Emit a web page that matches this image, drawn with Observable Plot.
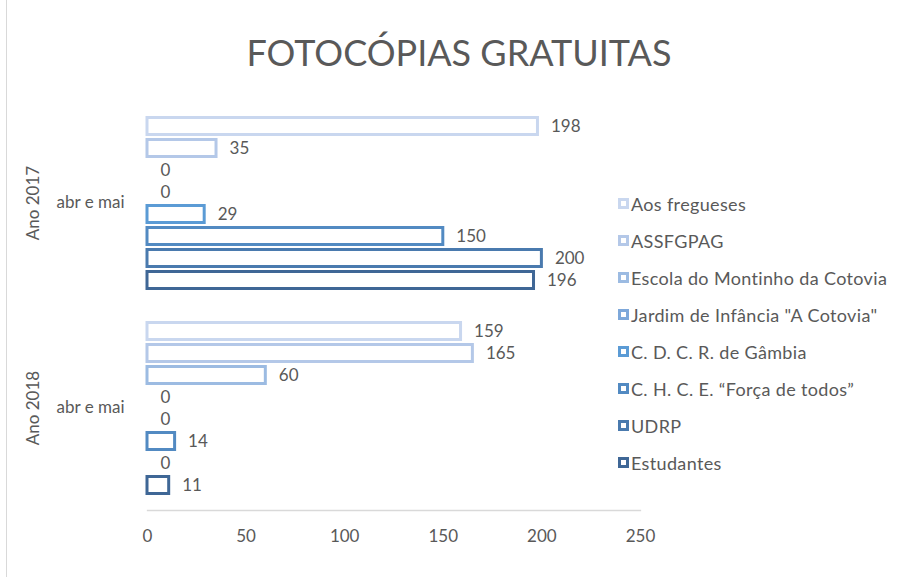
<!DOCTYPE html>
<html>
<head>
<meta charset="utf-8">
<script src="https://cdn.jsdelivr.net/npm/d3@7"></script>
<script src="https://cdn.jsdelivr.net/npm/@observablehq/plot@0.6"></script>
<style>
  html, body { margin: 0; padding: 0; background: #fff; }
  #wrap { position: relative; width: 897px; height: 577px; overflow: hidden; font-family: Lato, "Open Sans", sans-serif; color: #595959; }
  #border { position: absolute; left: 6px; top: 0; bottom: 0; width: 1px; background: #d9d9d9; }
  #title { position: absolute; left: 0; width: 918px; top: 30px; text-align: center; font-size: 36px; color: #595959; }
  #chart { position: absolute; left: 0; top: 0; }
  #legend { position: absolute; left: 618px; top: 185px; font-size: 18px; letter-spacing: 0.35px; color: #595959; }
  .item { height: 37px; display: flex; align-items: center; white-space: nowrap; }
  .sw { width: 5px; height: 5px; border: 3px solid; background: #fff; margin-right: 2px; flex: none; }
</style>
</head>
<body>
<div id="wrap">
  <div id="border"></div>
  <div id="chart"></div>
  <div id="title"></div>
  <div id="legend"></div>
</div>
<script>
const title = "FOTOCÓPIAS GRATUITAS";
const groups = ["Ano 2017", "Ano 2018"];
const subLabels = ["abr e mai", "abr e mai"];
const series = [
  "Aos fregueses",
  "ASSFGPAG",
  "Escola do Montinho da Cotovia",
  "Jardim de Infância \"A Cotovia\"",
  "C. D. C. R. de Gâmbia",
  "C. H. C. E. “Força de todos”",
  "UDRP",
  "Estudantes"
];
const values2017 = [198, 35, 0, 0, 29, 150, 200, 196];
const values2018 = [159, 165, 60, 0, 0, 14, 0, 11];
const colors = ["#c9d7ef", "#b4c8e8", "#9cbbe2", "#7ea8da", "#5b9bd5", "#528ac2", "#4a7aae", "#3f6796"];
const xTicks = [0, 50, 100, 150, 200, 250];

const valuesByGroup = [values2017, values2018];
const rows = groups.flatMap((g, i) => series.map((s, j) => ({group: g, series: s, value: valuesByGroup[i][j]})));
const groupRows = groups.map((g, i) => ({group: g, sub: subLabels[i]}));

const chart = Plot.plot({
  width: 897,
  height: 577,
  marginLeft: 147,
  marginRight: 257,
  marginTop: 100,
  marginBottom: 67,
  style: {fontFamily: "Lato, 'Open Sans', sans-serif", fontSize: "17px", color: "#595959", background: "transparent"},
  x: {domain: [0, 250], ticks: xTicks, axis: null, label: null},
  y: {domain: series, paddingInner: 0.1, paddingOuter: 0.625, axis: null},
  fy: {domain: groups, padding: 0, axis: null},
  color: {domain: series, range: colors},
  marks: [
    Plot.frame({anchor: "bottom", facet: "super", stroke: "#d9d9d9", strokeWidth: 1.3}),
    Plot.axisX(xTicks, {anchor: "bottom", label: null, tickSize: 0, tickPadding: 19, fontSize: 17, fill: "#595959", stroke: "none"}),
    Plot.barX(rows.filter(d => d.value > 0), {
      x: "value", y: "series", fy: "group",
      fill: "white", stroke: "series", strokeWidth: 3,
      insetTop: 1.5, insetBottom: 1.5
    }),
    Plot.text(rows, {
      x: "value", y: "series", fy: "group",
      text: d => String(d.value), textAnchor: "start", dx: 13,
      fill: "#595959", fontSize: 17
    }),
    Plot.text(groupRows, {
      fy: "group", text: "group", frameAnchor: "left", textAnchor: "middle", dx: -114, rotate: -90,
      fill: "#595959", fontSize: 17
    }),
    Plot.text(groupRows, {
      fy: "group", text: "sub", frameAnchor: "left", textAnchor: "middle", dx: -57,
      fill: "#595959", fontSize: 17
    })
  ]
});
document.getElementById("chart").appendChild(chart);
document.getElementById("title").textContent = title;

const legend = document.getElementById("legend");
series.forEach((s, i) => {
  const item = document.createElement("div");
  item.className = "item";
  const sw = document.createElement("span");
  sw.className = "sw";
  sw.style.borderColor = colors[i];
  const t = document.createElement("span");
  t.textContent = s;
  item.appendChild(sw);
  item.appendChild(t);
  legend.appendChild(item);
});
</script>
</body>
</html>
